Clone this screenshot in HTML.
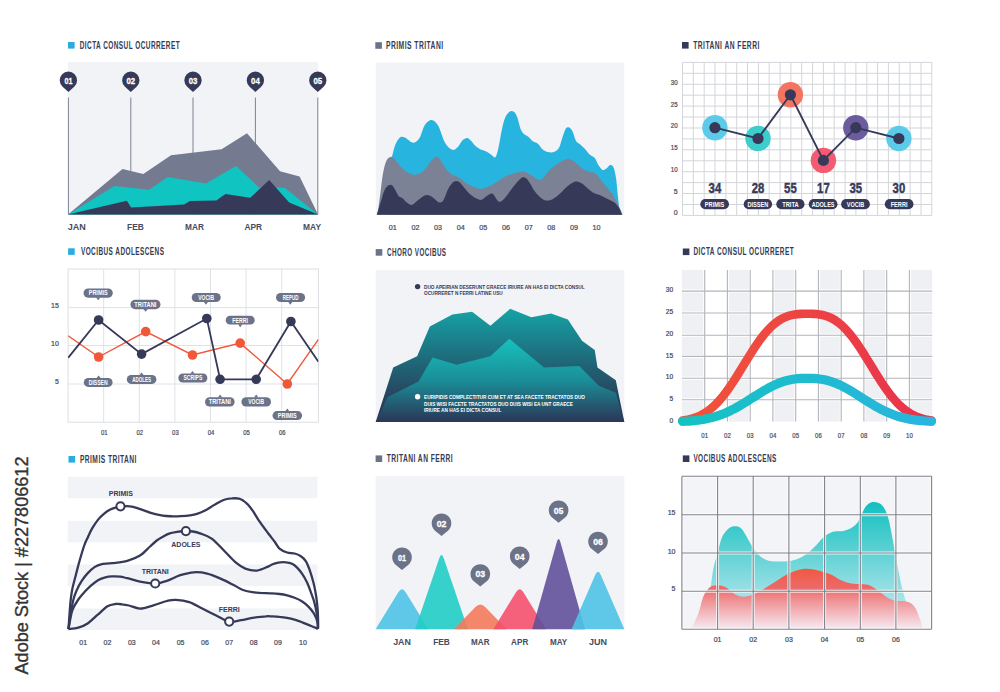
<!DOCTYPE html>
<html><head><meta charset="utf-8"><title>Infographic charts</title>
<style>
html,body{margin:0;padding:0;background:#ffffff;}
body{width:1000px;height:692px;overflow:hidden;}
svg{display:block;}
text{font-family:'Liberation Sans', Arial, sans-serif;}
</style></head>
<body>
<svg width="1000" height="692" viewBox="0 0 1000 692">
<rect width="1000" height="692" fill="#ffffff"/>
<rect x="68.0" y="42.0" width="6.6" height="6.6" fill="#2aace2"/>
<text x="79.7" y="48.7" font-size="10.20" fill="#363a52" font-weight="bold" text-anchor="start" textLength="100.4" lengthAdjust="spacingAndGlyphs" letter-spacing="0.7">DICTA CONSUL OCURRERET</text>
<rect x="68" y="62" width="250" height="152.5" fill="#f2f3f7"/>
<line x1="68.4" y1="97.5" x2="68.4" y2="214.5" stroke="#7d8291" stroke-width="1"/>
<line x1="130.8" y1="97.5" x2="130.8" y2="214.5" stroke="#7d8291" stroke-width="1"/>
<line x1="193.0" y1="97.5" x2="193.0" y2="214.5" stroke="#7d8291" stroke-width="1"/>
<line x1="255.4" y1="97.5" x2="255.4" y2="214.5" stroke="#7d8291" stroke-width="1"/>
<line x1="317.8" y1="97.5" x2="317.8" y2="214.5" stroke="#7d8291" stroke-width="1"/>
<path d="M68.0,214.5 L122.5,168.9 L143.3,174.1 L171.0,155.2 L221.6,149.2 L247.0,133.3 L280.0,171.3 L299.6,176.5 L318.0,214.5 Z" fill="#747b91"/>
<path d="M68.0,214.5 L114.6,185.9 L149.3,189.7 L167.6,176.9 L206.0,183.5 L236.0,166.0 L259.0,187.4 L280.0,187.5 L285.0,188.0 L318.0,214.5 Z" fill="#10c4c2"/>
<path d="M68.0,214.5 L126.8,200.7 L131.1,207.6 L184.0,204.5 L190.0,201.0 L216.4,200.4 L225.5,193.9 L250.2,197.8 L269.2,180.1 L289.2,202.4 L318.0,214.5 Z" fill="#363a58"/>
<path d="M62.58,86.67 L68.40,91.90 L74.22,86.67 A8.70,8.70 0 1 0 62.58,86.67 Z" fill="#363a58"/>
<text x="68.4" y="83.6" font-size="9.40" fill="#ffffff" font-weight="bold" text-anchor="middle" textLength="8.0" lengthAdjust="spacingAndGlyphs" stroke="#ffffff" stroke-width="0.3">01</text>
<path d="M124.98,86.67 L130.80,91.90 L136.62,86.67 A8.70,8.70 0 1 0 124.98,86.67 Z" fill="#363a58"/>
<text x="130.8" y="83.6" font-size="9.40" fill="#ffffff" font-weight="bold" text-anchor="middle" textLength="8.7" lengthAdjust="spacingAndGlyphs" stroke="#ffffff" stroke-width="0.3">02</text>
<path d="M187.18,86.67 L193.00,91.90 L198.82,86.67 A8.70,8.70 0 1 0 187.18,86.67 Z" fill="#363a58"/>
<text x="193.0" y="83.6" font-size="9.40" fill="#ffffff" font-weight="bold" text-anchor="middle" textLength="8.7" lengthAdjust="spacingAndGlyphs" stroke="#ffffff" stroke-width="0.3">03</text>
<path d="M249.58,86.67 L255.40,91.90 L261.22,86.67 A8.70,8.70 0 1 0 249.58,86.67 Z" fill="#363a58"/>
<text x="255.4" y="83.6" font-size="9.40" fill="#ffffff" font-weight="bold" text-anchor="middle" textLength="8.7" lengthAdjust="spacingAndGlyphs" stroke="#ffffff" stroke-width="0.3">04</text>
<path d="M311.98,86.67 L317.80,91.90 L323.62,86.67 A8.70,8.70 0 1 0 311.98,86.67 Z" fill="#363a58"/>
<text x="317.8" y="83.6" font-size="9.40" fill="#ffffff" font-weight="bold" text-anchor="middle" textLength="8.7" lengthAdjust="spacingAndGlyphs" stroke="#ffffff" stroke-width="0.3">05</text>
<text x="67.7" y="230.3" font-size="9.40" fill="#464b5e" font-weight="bold" text-anchor="start" textLength="18.1" lengthAdjust="spacingAndGlyphs">JAN</text>
<text x="127.1" y="230.3" font-size="9.40" fill="#464b5e" font-weight="bold" text-anchor="start" textLength="16.8" lengthAdjust="spacingAndGlyphs">FEB</text>
<text x="185.1" y="230.3" font-size="9.40" fill="#464b5e" font-weight="bold" text-anchor="start" textLength="18.9" lengthAdjust="spacingAndGlyphs">MAR</text>
<text x="244.4" y="230.3" font-size="9.40" fill="#464b5e" font-weight="bold" text-anchor="start" textLength="17.6" lengthAdjust="spacingAndGlyphs">APR</text>
<text x="303.1" y="230.3" font-size="9.40" fill="#464b5e" font-weight="bold" text-anchor="start" textLength="17.9" lengthAdjust="spacingAndGlyphs">MAY</text>
<rect x="375.3" y="42.2" width="6.6" height="6.6" fill="#6b7388"/>
<text x="386.0" y="48.9" font-size="10.20" fill="#363a52" font-weight="bold" text-anchor="start" textLength="57.6" lengthAdjust="spacingAndGlyphs" letter-spacing="0.7">PRIMIS TRITANI</text>
<rect x="375.8" y="62.6" width="248.4" height="152.2" fill="#f2f3f7"/>
<path d="M387.0,214.8 C387.2,209.8 387.9,193.3 388.5,185.0 C389.1,176.7 389.8,170.3 390.5,165.0 C391.2,159.7 392.1,156.3 392.9,152.9 C393.7,149.5 394.5,146.7 395.5,144.3 C396.5,141.9 397.8,139.7 398.9,138.4 C400.0,137.1 401.0,136.7 402.3,136.7 C403.6,136.7 404.9,137.5 406.5,138.4 C408.1,139.3 410.1,141.7 411.7,142.3 C413.3,142.9 414.5,142.7 415.9,141.8 C417.3,140.9 418.8,139.4 420.2,136.7 C421.6,134.0 422.9,128.3 424.5,125.6 C426.1,122.9 428.1,121.3 429.6,120.5 C431.2,119.7 432.4,120.0 433.8,120.8 C435.2,121.6 436.8,123.4 438.1,125.6 C439.4,127.8 440.4,131.3 441.5,134.1 C442.6,136.9 443.5,140.2 444.9,142.6 C446.3,145.0 448.4,147.4 450.0,148.6 C451.6,149.8 452.9,150.2 454.3,149.8 C455.7,149.4 457.2,147.6 458.6,146.0 C460.0,144.4 461.4,141.4 462.8,140.1 C464.2,138.8 465.7,137.8 467.1,137.9 C468.5,138.0 469.9,139.6 471.3,140.9 C472.7,142.2 474.0,144.6 475.6,146.0 C477.2,147.4 479.0,148.6 480.7,149.5 C482.4,150.4 484.1,150.3 485.8,151.2 C487.5,152.0 489.4,153.6 491.0,154.6 C492.6,155.6 494.1,158.4 495.3,157.3 C496.5,156.2 497.3,152.6 498.4,148.0 C499.5,143.4 500.7,135.1 501.8,130.0 C502.9,124.9 503.9,120.6 505.2,117.6 C506.5,114.6 508.1,112.8 509.5,111.8 C510.9,110.8 512.5,110.9 513.8,111.8 C515.1,112.7 516.1,114.2 517.2,117.1 C518.3,120.0 519.5,126.2 520.6,129.0 C521.7,131.8 522.7,132.8 524.0,134.1 C525.3,135.4 526.9,135.6 528.3,136.7 C529.7,137.8 531.0,139.8 532.5,140.9 C534.0,142.0 535.9,142.1 537.6,143.5 C539.3,144.9 541.1,148.1 542.8,149.5 C544.5,150.9 546.0,151.6 547.9,152.0 C549.8,152.4 552.0,152.7 553.9,152.0 C555.8,151.3 557.6,150.2 559.0,147.8 C560.4,145.4 561.3,140.7 562.4,137.5 C563.5,134.3 564.7,130.3 565.8,128.6 C566.9,126.9 568.1,127.0 569.2,127.5 C570.3,128.0 571.5,129.4 572.6,131.6 C573.7,133.8 574.7,138.8 576.0,140.9 C577.3,143.0 578.9,143.1 580.3,144.4 C581.7,145.7 583.0,146.9 584.6,148.6 C586.2,150.3 588.0,153.0 589.7,154.6 C591.4,156.2 593.4,156.3 594.8,158.0 C596.2,159.7 596.9,162.8 598.2,164.8 C599.5,166.8 601.1,169.3 602.5,169.9 C603.9,170.5 605.4,169.0 606.7,168.2 C608.0,167.4 609.0,165.1 610.1,165.0 C611.2,164.9 612.6,165.2 613.6,167.4 C614.6,169.7 615.4,173.8 616.1,178.5 C616.8,183.2 617.2,190.4 617.8,195.5 C618.4,200.6 618.9,206.0 619.5,209.2 C620.1,212.4 620.9,213.9 621.2,214.8 L387.0,214.8 Z" fill="#27b5e0"/>
<path d="M377.6,214.8 C378.0,211.6 379.2,202.1 380.1,195.5 C381.0,188.9 381.7,180.7 382.7,175.0 C383.7,169.3 384.8,164.4 386.1,161.4 C387.4,158.4 389.0,157.7 390.3,157.1 C391.6,156.5 392.7,157.2 393.8,158.0 C394.9,158.8 395.8,160.5 397.2,162.2 C398.6,163.9 400.3,166.3 402.3,168.2 C404.3,170.0 406.8,172.2 409.1,173.3 C411.4,174.4 413.6,175.0 415.9,174.7 C418.2,174.4 420.4,173.5 422.7,171.6 C425.0,169.7 427.6,165.5 429.6,163.1 C431.6,160.7 433.1,157.9 434.7,157.1 C436.3,156.2 437.6,156.7 439.0,158.0 C440.4,159.3 441.6,162.5 443.2,164.8 C444.8,167.1 446.6,169.9 448.3,171.6 C450.0,173.3 451.4,173.9 453.4,175.0 C455.4,176.1 458.0,177.0 460.3,178.4 C462.6,179.8 464.8,182.2 467.1,183.6 C469.4,185.0 471.6,186.2 473.9,187.0 C476.2,187.8 478.4,188.7 480.7,188.7 C483.0,188.7 485.2,187.8 487.5,187.0 C489.8,186.2 492.0,185.0 494.4,183.6 C496.8,182.2 499.4,179.9 501.8,178.5 C504.2,177.1 506.0,176.1 508.6,175.1 C511.2,174.1 514.6,173.1 517.2,172.5 C519.8,171.9 521.7,171.2 524.0,171.6 C526.3,172.0 528.5,173.8 530.8,175.1 C533.1,176.4 535.6,178.7 537.6,179.3 C539.6,179.9 541.1,179.8 542.8,178.5 C544.5,177.2 545.9,173.7 547.9,171.6 C549.9,169.5 552.2,167.5 554.7,165.7 C557.2,163.9 560.8,161.7 563.2,160.6 C565.6,159.5 567.2,158.6 569.2,158.9 C571.2,159.2 573.1,160.8 575.2,162.3 C577.3,163.9 579.7,166.6 582.0,168.2 C584.3,169.8 586.5,170.7 588.8,171.6 C591.1,172.5 593.8,172.2 595.6,173.4 C597.5,174.6 598.3,176.5 599.9,178.5 C601.5,180.5 603.1,183.0 605.0,185.3 C606.9,187.6 609.1,189.6 611.0,192.1 C612.9,194.6 614.7,198.0 616.1,200.6 C617.5,203.2 618.4,205.1 619.5,207.5 C620.6,209.9 622.1,213.6 622.6,214.8 L377.6,214.8 Z" fill="#7c8296"/>
<path d="M376.7,214.8 C377.3,213.0 378.8,208.1 380.1,204.0 C381.4,199.9 383.0,193.5 384.4,190.4 C385.8,187.3 387.3,186.2 388.6,185.3 C389.9,184.5 391.0,184.5 392.1,185.3 C393.2,186.2 394.4,188.6 395.5,190.4 C396.6,192.2 397.8,195.0 398.9,196.3 C400.0,197.6 401.0,197.1 402.3,198.1 C403.6,199.1 404.9,201.2 406.5,202.3 C408.1,203.4 409.8,205.2 411.7,204.9 C413.6,204.6 415.5,202.2 417.6,200.6 C419.7,199.0 422.5,196.3 424.5,195.5 C426.5,194.7 427.9,194.9 429.6,195.5 C431.3,196.1 433.1,197.8 434.7,198.9 C436.3,200.0 437.6,202.0 439.0,202.3 C440.4,202.6 441.6,202.9 443.2,200.6 C444.8,198.3 446.6,191.8 448.3,188.7 C450.0,185.6 451.7,183.1 453.4,181.9 C455.1,180.7 456.9,180.7 458.6,181.5 C460.3,182.3 462.0,185.1 463.7,187.0 C465.4,188.9 466.8,191.1 468.8,192.9 C470.8,194.8 473.5,196.9 475.6,198.1 C477.7,199.2 479.6,200.2 481.6,199.8 C483.6,199.4 485.6,196.5 487.5,195.5 C489.4,194.5 491.0,193.0 492.7,193.8 C494.4,194.6 496.1,199.2 497.5,200.5 C498.9,201.8 499.4,202.3 501.0,201.5 C502.6,200.7 504.8,198.1 506.9,195.5 C509.0,192.9 511.5,188.9 513.8,186.1 C516.1,183.3 518.8,179.9 520.6,178.5 C522.5,177.1 523.5,177.0 524.9,177.6 C526.3,178.2 527.5,179.8 529.1,181.9 C530.7,184.0 532.4,187.9 534.2,190.4 C536.1,192.9 538.2,195.5 540.2,197.2 C542.2,198.9 544.1,200.3 546.2,200.6 C548.3,200.9 550.7,200.0 553.0,198.9 C555.3,197.8 557.5,195.8 559.8,193.8 C562.1,191.8 564.5,188.8 566.6,187.0 C568.7,185.2 570.9,183.6 572.6,182.7 C574.3,181.8 575.3,181.3 576.9,181.5 C578.5,181.7 580.1,182.4 582.0,183.6 C583.9,184.8 586.0,187.1 588.0,188.7 C590.0,190.3 591.8,191.9 593.9,193.0 C596.0,194.1 598.5,194.5 600.8,195.5 C603.1,196.5 605.3,197.8 607.6,198.9 C609.9,200.1 612.5,201.0 614.4,202.4 C616.2,203.8 617.4,205.4 618.7,207.5 C620.0,209.6 621.5,213.6 622.1,214.8 L376.7,214.8 Z" fill="#363a58"/>
<text x="392.7" y="229.9" font-size="7.20" fill="#464b5e" font-weight="normal" text-anchor="middle" stroke="#464b5e" stroke-width="0.22">01</text>
<text x="415.4" y="229.9" font-size="7.20" fill="#464b5e" font-weight="normal" text-anchor="middle" stroke="#464b5e" stroke-width="0.22">02</text>
<text x="438.0" y="229.9" font-size="7.20" fill="#464b5e" font-weight="normal" text-anchor="middle" stroke="#464b5e" stroke-width="0.22">03</text>
<text x="460.7" y="229.9" font-size="7.20" fill="#464b5e" font-weight="normal" text-anchor="middle" stroke="#464b5e" stroke-width="0.22">04</text>
<text x="483.3" y="229.9" font-size="7.20" fill="#464b5e" font-weight="normal" text-anchor="middle" stroke="#464b5e" stroke-width="0.22">05</text>
<text x="506.0" y="229.9" font-size="7.20" fill="#464b5e" font-weight="normal" text-anchor="middle" stroke="#464b5e" stroke-width="0.22">06</text>
<text x="528.7" y="229.9" font-size="7.20" fill="#464b5e" font-weight="normal" text-anchor="middle" stroke="#464b5e" stroke-width="0.22">07</text>
<text x="551.3" y="229.9" font-size="7.20" fill="#464b5e" font-weight="normal" text-anchor="middle" stroke="#464b5e" stroke-width="0.22">08</text>
<text x="574.0" y="229.9" font-size="7.20" fill="#464b5e" font-weight="normal" text-anchor="middle" stroke="#464b5e" stroke-width="0.22">09</text>
<text x="596.6" y="229.9" font-size="7.20" fill="#464b5e" font-weight="normal" text-anchor="middle" stroke="#464b5e" stroke-width="0.22">10</text>
<rect x="682.0" y="42.0" width="6.6" height="6.6" fill="#363a58"/>
<text x="693.2" y="48.7" font-size="10.20" fill="#363a52" font-weight="bold" text-anchor="start" textLength="66.6" lengthAdjust="spacingAndGlyphs" letter-spacing="0.7">TRITANI AN FERRI</text>
<rect x="682.5" y="62.4" width="249.3" height="153.0" fill="#ffffff"/>
<path d="M682.5,62.4V215.4 M693.3,62.4V215.4 M704.2,62.4V215.4 M715.0,62.4V215.4 M725.9,62.4V215.4 M736.7,62.4V215.4 M747.5,62.4V215.4 M758.4,62.4V215.4 M769.2,62.4V215.4 M780.1,62.4V215.4 M790.9,62.4V215.4 M801.7,62.4V215.4 M812.6,62.4V215.4 M823.4,62.4V215.4 M834.2,62.4V215.4 M845.1,62.4V215.4 M855.9,62.4V215.4 M866.8,62.4V215.4 M877.6,62.4V215.4 M888.4,62.4V215.4 M899.3,62.4V215.4 M910.1,62.4V215.4 M921.0,62.4V215.4 M931.8,62.4V215.4 M682.5,62.4H931.8 M682.5,73.3H931.8 M682.5,84.3H931.8 M682.5,95.2H931.8 M682.5,106.1H931.8 M682.5,117.0H931.8 M682.5,128.0H931.8 M682.5,138.9H931.8 M682.5,149.8H931.8 M682.5,160.8H931.8 M682.5,171.7H931.8 M682.5,182.6H931.8 M682.5,193.5H931.8 M682.5,204.5H931.8 M682.5,215.4H931.8" stroke="#d3d5da" stroke-width="1" fill="none"/>
<text x="677.6" y="84.7" font-size="7.00" fill="#464b5e" font-weight="normal" text-anchor="end" textLength="6.8" lengthAdjust="spacingAndGlyphs" stroke="#464b5e" stroke-width="0.22">30</text>
<text x="677.6" y="106.5" font-size="7.00" fill="#464b5e" font-weight="normal" text-anchor="end" textLength="6.8" lengthAdjust="spacingAndGlyphs" stroke="#464b5e" stroke-width="0.22">25</text>
<text x="677.6" y="128.3" font-size="7.00" fill="#464b5e" font-weight="normal" text-anchor="end" textLength="6.8" lengthAdjust="spacingAndGlyphs" stroke="#464b5e" stroke-width="0.22">20</text>
<text x="677.6" y="150.0" font-size="7.00" fill="#464b5e" font-weight="normal" text-anchor="end" textLength="6.8" lengthAdjust="spacingAndGlyphs" stroke="#464b5e" stroke-width="0.22">15</text>
<text x="677.6" y="171.8" font-size="7.00" fill="#464b5e" font-weight="normal" text-anchor="end" textLength="6.8" lengthAdjust="spacingAndGlyphs" stroke="#464b5e" stroke-width="0.22">10</text>
<text x="677.6" y="193.6" font-size="7.00" fill="#464b5e" font-weight="normal" text-anchor="end" stroke="#464b5e" stroke-width="0.22">5</text>
<text x="677.6" y="215.4" font-size="7.00" fill="#464b5e" font-weight="normal" text-anchor="end" stroke="#464b5e" stroke-width="0.22">0</text>
<circle cx="714.9" cy="127.7" r="12.7" fill="#5ccbea"/>
<circle cx="758.0" cy="138.5" r="12.7" fill="#3ccdcc"/>
<circle cx="790.4" cy="94.8" r="12.7" fill="#f47462"/>
<circle cx="823.4" cy="160.4" r="12.7" fill="#f45a72"/>
<circle cx="855.8" cy="127.7" r="12.7" fill="#6c5c9e"/>
<circle cx="898.9" cy="138.5" r="12.7" fill="#5ccbea"/>
<polyline points="714.9,127.7 758.0,138.5 790.4,94.8 823.4,160.4 855.8,127.7 898.9,138.5" fill="none" stroke="#363a58" stroke-width="1.9"/>
<circle cx="714.9" cy="127.7" r="5.6" fill="#363a58"/>
<text x="714.9" y="193.4" font-size="14.40" fill="#363a58" font-weight="bold" text-anchor="middle" textLength="12.6" lengthAdjust="spacingAndGlyphs" stroke="#363a58" stroke-width="0.45">34</text>
<rect x="700.3" y="199.1" width="28.7" height="10.2" rx="5.1" fill="#363a58"/>
<text x="714.6" y="206.9" font-size="6.40" fill="#ffffff" font-weight="bold" text-anchor="middle" textLength="19.5" lengthAdjust="spacingAndGlyphs">PRIMIS</text>
<circle cx="758.0" cy="138.5" r="5.6" fill="#363a58"/>
<text x="758.0" y="193.4" font-size="14.40" fill="#363a58" font-weight="bold" text-anchor="middle" textLength="12.6" lengthAdjust="spacingAndGlyphs" stroke="#363a58" stroke-width="0.45">28</text>
<rect x="743.7" y="199.1" width="28.4" height="10.2" rx="5.1" fill="#363a58"/>
<text x="757.9" y="206.9" font-size="6.40" fill="#ffffff" font-weight="bold" text-anchor="middle" textLength="21.0" lengthAdjust="spacingAndGlyphs">DISSEN</text>
<circle cx="790.4" cy="94.8" r="5.6" fill="#363a58"/>
<text x="790.4" y="193.4" font-size="14.40" fill="#363a58" font-weight="bold" text-anchor="middle" textLength="12.6" lengthAdjust="spacingAndGlyphs" stroke="#363a58" stroke-width="0.45">55</text>
<rect x="776.3" y="199.1" width="28.2" height="10.2" rx="5.1" fill="#363a58"/>
<text x="790.4" y="206.9" font-size="6.40" fill="#ffffff" font-weight="bold" text-anchor="middle" textLength="16.5" lengthAdjust="spacingAndGlyphs">TRITA</text>
<circle cx="823.4" cy="160.4" r="5.6" fill="#363a58"/>
<text x="823.4" y="193.4" font-size="14.40" fill="#363a58" font-weight="bold" text-anchor="middle" textLength="12.6" lengthAdjust="spacingAndGlyphs" stroke="#363a58" stroke-width="0.45">17</text>
<rect x="808.7" y="199.1" width="28.8" height="10.2" rx="5.1" fill="#363a58"/>
<text x="823.1" y="206.9" font-size="6.40" fill="#ffffff" font-weight="bold" text-anchor="middle" textLength="22.8" lengthAdjust="spacingAndGlyphs">ADOLES</text>
<circle cx="855.8" cy="127.7" r="5.6" fill="#363a58"/>
<text x="855.8" y="193.4" font-size="14.40" fill="#363a58" font-weight="bold" text-anchor="middle" textLength="12.6" lengthAdjust="spacingAndGlyphs" stroke="#363a58" stroke-width="0.45">35</text>
<rect x="841.1" y="199.1" width="28.8" height="10.2" rx="5.1" fill="#363a58"/>
<text x="855.5" y="206.9" font-size="6.40" fill="#ffffff" font-weight="bold" text-anchor="middle" textLength="17.4" lengthAdjust="spacingAndGlyphs">VOCIB</text>
<circle cx="898.9" cy="138.5" r="5.6" fill="#363a58"/>
<text x="898.9" y="193.4" font-size="14.40" fill="#363a58" font-weight="bold" text-anchor="middle" textLength="12.6" lengthAdjust="spacingAndGlyphs" stroke="#363a58" stroke-width="0.45">30</text>
<rect x="884.8" y="199.1" width="28.7" height="10.2" rx="5.1" fill="#363a58"/>
<text x="899.1" y="206.9" font-size="6.40" fill="#ffffff" font-weight="bold" text-anchor="middle" textLength="16.9" lengthAdjust="spacingAndGlyphs">FERRI</text>
<rect x="68.1" y="248.3" width="6.6" height="6.6" fill="#2aace2"/>
<text x="80.9" y="255.0" font-size="10.20" fill="#363a52" font-weight="bold" text-anchor="start" textLength="83.5" lengthAdjust="spacingAndGlyphs" letter-spacing="0.7">VOCIBUS ADOLESCENS</text>
<rect x="68.1" y="269.0" width="250.3" height="153.2" fill="#ffffff" stroke="#dcdee3" stroke-width="1"/>
<path d="M103.7,269.0V422.2 M139.3,269.0V422.2 M174.9,269.0V422.2 M210.5,269.0V422.2 M246.1,269.0V422.2 M281.7,269.0V422.2 M68.1,307.6H318.4 M68.1,345.5H318.4 M68.1,384.0H318.4" stroke="#e0e2e7" stroke-width="1" fill="none"/>
<text x="58.8" y="307.8" font-size="7.00" fill="#464b5e" font-weight="normal" text-anchor="end" stroke="#464b5e" stroke-width="0.22">15</text>
<text x="58.8" y="345.7" font-size="7.00" fill="#464b5e" font-weight="normal" text-anchor="end" stroke="#464b5e" stroke-width="0.22">10</text>
<text x="58.8" y="384.2" font-size="7.00" fill="#464b5e" font-weight="normal" text-anchor="end" stroke="#464b5e" stroke-width="0.22">5</text>
<text x="104.2" y="434.6" font-size="7.30" fill="#464b5e" font-weight="normal" text-anchor="middle" textLength="6.6" lengthAdjust="spacingAndGlyphs" stroke="#464b5e" stroke-width="0.22">01</text>
<text x="139.8" y="434.6" font-size="7.30" fill="#464b5e" font-weight="normal" text-anchor="middle" textLength="6.6" lengthAdjust="spacingAndGlyphs" stroke="#464b5e" stroke-width="0.22">02</text>
<text x="175.4" y="434.6" font-size="7.30" fill="#464b5e" font-weight="normal" text-anchor="middle" textLength="6.6" lengthAdjust="spacingAndGlyphs" stroke="#464b5e" stroke-width="0.22">03</text>
<text x="211.0" y="434.6" font-size="7.30" fill="#464b5e" font-weight="normal" text-anchor="middle" textLength="6.6" lengthAdjust="spacingAndGlyphs" stroke="#464b5e" stroke-width="0.22">04</text>
<text x="246.6" y="434.6" font-size="7.30" fill="#464b5e" font-weight="normal" text-anchor="middle" textLength="6.6" lengthAdjust="spacingAndGlyphs" stroke="#464b5e" stroke-width="0.22">05</text>
<text x="282.2" y="434.6" font-size="7.30" fill="#464b5e" font-weight="normal" text-anchor="middle" textLength="6.6" lengthAdjust="spacingAndGlyphs" stroke="#464b5e" stroke-width="0.22">06</text>
<clipPath id="c4"><rect x="68.1" y="269.0" width="250.3" height="153.2"/></clipPath>
<g clip-path="url(#c4)">
<polyline points="68.1,335.7 98.6,357.0 145.7,331.6 192.5,355.0 240.2,343.1 287.3,384.0 318.4,339.3" fill="none" stroke="#f0583a" stroke-width="1.4"/>
<polyline points="68.1,357.9 98.6,320.0 141.6,354.1 206.8,318.5 220.1,379.3 256.2,379.3 290.9,321.5 318.4,361.8" fill="none" stroke="#363a58" stroke-width="1.8"/>
</g>
<circle cx="98.6" cy="357.0" r="4.8" fill="#f0583a"/>
<circle cx="145.7" cy="331.6" r="4.8" fill="#f0583a"/>
<circle cx="192.5" cy="355.0" r="4.8" fill="#f0583a"/>
<circle cx="240.2" cy="343.1" r="4.8" fill="#f0583a"/>
<circle cx="287.3" cy="384.0" r="4.8" fill="#f0583a"/>
<circle cx="98.6" cy="320.0" r="4.8" fill="#363a58"/>
<circle cx="141.6" cy="354.1" r="4.8" fill="#363a58"/>
<circle cx="206.8" cy="318.5" r="4.8" fill="#363a58"/>
<circle cx="220.1" cy="379.3" r="4.8" fill="#363a58"/>
<circle cx="256.2" cy="379.3" r="4.8" fill="#363a58"/>
<circle cx="290.9" cy="321.5" r="4.8" fill="#363a58"/>
<rect x="83.5" y="288.4" width="29.3" height="9.3" rx="4.6" fill="#6c7389"/>
<path d="M96.0,297.4 L98.2,300.3 L100.4,297.4 Z" fill="#6c7389"/>
<text x="98.2" y="295.4" font-size="6.40" fill="#ffffff" font-weight="bold" text-anchor="middle" textLength="18.9" lengthAdjust="spacingAndGlyphs">PRIMIS</text>
<rect x="130.4" y="299.8" width="30.1" height="9.4" rx="4.7" fill="#6c7389"/>
<path d="M143.4,308.9 L145.6,311.8 L147.8,308.9 Z" fill="#6c7389"/>
<text x="145.4" y="306.8" font-size="6.40" fill="#ffffff" font-weight="bold" text-anchor="middle" textLength="22.1" lengthAdjust="spacingAndGlyphs">TRITANI</text>
<rect x="191.7" y="292.9" width="29.0" height="9.2" rx="4.6" fill="#6c7389"/>
<path d="M203.7,301.8 L205.9,304.7 L208.1,301.8 Z" fill="#6c7389"/>
<text x="206.2" y="299.8" font-size="6.40" fill="#ffffff" font-weight="bold" text-anchor="middle" textLength="15.8" lengthAdjust="spacingAndGlyphs">VOCIB</text>
<rect x="225.7" y="315.8" width="29.0" height="8.8" rx="4.4" fill="#6c7389"/>
<path d="M238.0,324.3 L240.2,327.2 L242.4,324.3 Z" fill="#6c7389"/>
<text x="240.2" y="322.5" font-size="6.40" fill="#ffffff" font-weight="bold" text-anchor="middle" textLength="15.8" lengthAdjust="spacingAndGlyphs">FERRI</text>
<rect x="276.0" y="292.9" width="29.1" height="9.2" rx="4.6" fill="#6c7389"/>
<path d="M288.1,301.8 L290.3,304.7 L292.5,301.8 Z" fill="#6c7389"/>
<text x="290.6" y="299.8" font-size="6.40" fill="#ffffff" font-weight="bold" text-anchor="middle" textLength="15.8" lengthAdjust="spacingAndGlyphs">REPUD</text>
<rect x="83.8" y="378.0" width="28.8" height="8.9" rx="4.4" fill="#6c7389"/>
<path d="M96.4,378.3 L98.6,375.4 L100.8,378.3 Z" fill="#6c7389"/>
<text x="98.2" y="384.8" font-size="6.40" fill="#ffffff" font-weight="bold" text-anchor="middle" textLength="18.9" lengthAdjust="spacingAndGlyphs">DISSEN</text>
<rect x="126.8" y="375.0" width="29.6" height="8.9" rx="4.4" fill="#6c7389"/>
<path d="M139.4,375.3 L141.6,372.4 L143.8,375.3 Z" fill="#6c7389"/>
<text x="141.6" y="381.8" font-size="6.40" fill="#ffffff" font-weight="bold" text-anchor="middle" textLength="18.9" lengthAdjust="spacingAndGlyphs">ADOLES</text>
<rect x="178.3" y="373.5" width="29.1" height="9.1" rx="4.5" fill="#6c7389"/>
<path d="M190.3,373.8 L192.5,370.9 L194.7,373.8 Z" fill="#6c7389"/>
<text x="192.9" y="380.3" font-size="6.40" fill="#ffffff" font-weight="bold" text-anchor="middle" textLength="18.9" lengthAdjust="spacingAndGlyphs">SCRIPS</text>
<rect x="205.0" y="397.2" width="29.6" height="9.4" rx="4.7" fill="#6c7389"/>
<path d="M217.9,397.5 L220.1,394.6 L222.3,397.5 Z" fill="#6c7389"/>
<text x="219.8" y="404.2" font-size="6.40" fill="#ffffff" font-weight="bold" text-anchor="middle" textLength="22.1" lengthAdjust="spacingAndGlyphs">TRITANI</text>
<rect x="241.4" y="397.2" width="29.6" height="9.4" rx="4.7" fill="#6c7389"/>
<path d="M254.0,397.5 L256.2,394.6 L258.4,397.5 Z" fill="#6c7389"/>
<text x="256.2" y="404.2" font-size="6.40" fill="#ffffff" font-weight="bold" text-anchor="middle" textLength="15.8" lengthAdjust="spacingAndGlyphs">VOCIB</text>
<rect x="272.5" y="411.1" width="29.6" height="9.0" rx="4.5" fill="#6c7389"/>
<path d="M285.1,411.4 L287.3,408.5 L289.5,411.4 Z" fill="#6c7389"/>
<text x="287.3" y="417.9" font-size="6.40" fill="#ffffff" font-weight="bold" text-anchor="middle" textLength="18.9" lengthAdjust="spacingAndGlyphs">PRIMIS</text>
<rect x="375.7" y="249.1" width="6.6" height="6.6" fill="#6b7388"/>
<text x="387.0" y="255.8" font-size="10.20" fill="#363a52" font-weight="bold" text-anchor="start" textLength="59.5" lengthAdjust="spacingAndGlyphs" letter-spacing="0.7">CHORO VOCIBUS</text>
<rect x="375.7" y="270.2" width="248.6" height="151.7" fill="#f2f3f7"/>
<linearGradient id="g5a" gradientUnits="userSpaceOnUse" x1="0" y1="308" x2="0" y2="410"><stop offset="0" stop-color="#15a4a6"/><stop offset="0.55" stop-color="#1f6577"/><stop offset="1" stop-color="#2c3654"/></linearGradient>
<linearGradient id="g5b" gradientUnits="userSpaceOnUse" x1="0" y1="338" x2="0" y2="422"><stop offset="0" stop-color="#17c2be"/><stop offset="0.5" stop-color="#1a8e98"/><stop offset="1" stop-color="#2b3657"/></linearGradient>
<path d="M375.7,421.9 L393.2,367.5 L417.1,356.2 L429.8,326.6 L452.4,314.5 L472.1,311.7 L490.4,325.8 L510.2,308.8 L531.3,317.3 L551.0,313.4 L567.9,319.6 L582.0,340.7 L594.7,350.0 L597.5,367.5 L615.8,380.2 L624.3,421.9 Z" fill="url(#g5a)"/>
<path d="M375.7,421.9 L387.5,397.0 L418.5,381.6 L432.6,357.6 L456.6,364.7 L490.4,356.2 L509.3,338.7 L544.0,367.5 L579.2,366.1 L598.9,385.8 L615.8,392.8 L624.3,421.9 Z" fill="url(#g5b)"/>
<circle cx="417.6" cy="286.6" r="2.7" fill="#363a58"/>
<text x="424.0" y="288.5" font-size="5.00" fill="#363a58" font-weight="bold" text-anchor="start" textLength="160.6" lengthAdjust="spacingAndGlyphs">DUO APEIRIAN DESERUNT GRAECE IRIURE AN HAS EI DICTA CONSUL</text>
<text x="424.0" y="294.9" font-size="5.00" fill="#363a58" font-weight="bold" text-anchor="start" textLength="78.7" lengthAdjust="spacingAndGlyphs">OCURRERET N FERRI LATINE USU</text>
<circle cx="417.6" cy="396.8" r="2.7" fill="#ffffff"/>
<text x="424.0" y="399.0" font-size="5.00" fill="#ffffff" font-weight="bold" text-anchor="start" textLength="161.0" lengthAdjust="spacingAndGlyphs">EURIPIDIS COMPLECTITUR CUM ET AT SEA FACETE TRACTATOS DUO</text>
<text x="424.0" y="405.5" font-size="5.00" fill="#ffffff" font-weight="bold" text-anchor="start" textLength="148.9" lengthAdjust="spacingAndGlyphs">DUIS WISI  FACETE TRACTATOS DUO DUIS WISI EA UNT GRAECE</text>
<text x="424.0" y="412.0" font-size="5.00" fill="#ffffff" font-weight="bold" text-anchor="start" textLength="77.4" lengthAdjust="spacingAndGlyphs">IRIURE AN HAS EI DICTA CONSUL</text>
<rect x="682.8" y="248.5" width="6.6" height="6.6" fill="#363a58"/>
<text x="693.4" y="255.2" font-size="10.20" fill="#363a52" font-weight="bold" text-anchor="start" textLength="100.7" lengthAdjust="spacingAndGlyphs" letter-spacing="0.7">DICTA CONSUL OCURRERET</text>
<rect x="681.9" y="269.9" width="250.3" height="151.7" fill="#ffffff"/>
<rect x="681.9" y="269.9" width="22.75" height="151.7" fill="#eff0f3"/>
<rect x="727.4" y="269.9" width="22.75" height="151.7" fill="#eff0f3"/>
<rect x="772.9" y="269.9" width="22.75" height="151.7" fill="#eff0f3"/>
<rect x="818.4" y="269.9" width="22.75" height="151.7" fill="#eff0f3"/>
<rect x="863.9" y="269.9" width="22.75" height="151.7" fill="#eff0f3"/>
<rect x="909.4" y="269.9" width="22.75" height="151.7" fill="#eff0f3"/>
<path d="M704.7,269.9V421.6 M727.4,269.9V421.6 M750.2,269.9V421.6 M772.9,269.9V421.6 M795.7,269.9V421.6 M818.4,269.9V421.6 M841.2,269.9V421.6 M863.9,269.9V421.6 M886.7,269.9V421.6 M909.4,269.9V421.6 M681.9,291.1H932.2 M681.9,313.0H932.2 M681.9,335.2H932.2 M681.9,356.4H932.2 M681.9,378.2H932.2 M681.9,399.8H932.2" stroke="#ffffff" stroke-width="3" fill="none"/>
<path d="M704.7,269.9V421.6 M727.4,269.9V421.6 M750.2,269.9V421.6 M772.9,269.9V421.6 M795.7,269.9V421.6 M818.4,269.9V421.6 M841.2,269.9V421.6 M863.9,269.9V421.6 M886.7,269.9V421.6 M909.4,269.9V421.6 M681.9,291.1H932.2 M681.9,313.0H932.2 M681.9,335.2H932.2 M681.9,356.4H932.2 M681.9,378.2H932.2 M681.9,399.8H932.2" stroke="#b3b5ba" stroke-width="1.1" fill="none"/>
<text x="673.1" y="292.2" font-size="6.60" fill="#464b5e" font-weight="normal" text-anchor="end" stroke="#464b5e" stroke-width="0.22">30</text>
<text x="673.1" y="314.1" font-size="6.60" fill="#464b5e" font-weight="normal" text-anchor="end" stroke="#464b5e" stroke-width="0.22">25</text>
<text x="673.1" y="336.3" font-size="6.60" fill="#464b5e" font-weight="normal" text-anchor="end" stroke="#464b5e" stroke-width="0.22">20</text>
<text x="673.1" y="357.5" font-size="6.60" fill="#464b5e" font-weight="normal" text-anchor="end" stroke="#464b5e" stroke-width="0.22">15</text>
<text x="673.1" y="379.3" font-size="6.60" fill="#464b5e" font-weight="normal" text-anchor="end" stroke="#464b5e" stroke-width="0.22">10</text>
<text x="673.1" y="400.9" font-size="6.60" fill="#464b5e" font-weight="normal" text-anchor="end" stroke="#464b5e" stroke-width="0.22">5</text>
<text x="673.1" y="422.7" font-size="6.60" fill="#464b5e" font-weight="normal" text-anchor="end" stroke="#464b5e" stroke-width="0.22">0</text>
<text x="704.7" y="437.7" font-size="7.80" fill="#464b5e" font-weight="normal" text-anchor="middle" textLength="6.7" lengthAdjust="spacingAndGlyphs" stroke="#464b5e" stroke-width="0.22">01</text>
<text x="727.4" y="437.7" font-size="7.80" fill="#464b5e" font-weight="normal" text-anchor="middle" textLength="6.7" lengthAdjust="spacingAndGlyphs" stroke="#464b5e" stroke-width="0.22">02</text>
<text x="750.2" y="437.7" font-size="7.80" fill="#464b5e" font-weight="normal" text-anchor="middle" textLength="6.7" lengthAdjust="spacingAndGlyphs" stroke="#464b5e" stroke-width="0.22">03</text>
<text x="772.9" y="437.7" font-size="7.80" fill="#464b5e" font-weight="normal" text-anchor="middle" textLength="6.7" lengthAdjust="spacingAndGlyphs" stroke="#464b5e" stroke-width="0.22">04</text>
<text x="795.7" y="437.7" font-size="7.80" fill="#464b5e" font-weight="normal" text-anchor="middle" textLength="6.7" lengthAdjust="spacingAndGlyphs" stroke="#464b5e" stroke-width="0.22">05</text>
<text x="818.4" y="437.7" font-size="7.80" fill="#464b5e" font-weight="normal" text-anchor="middle" textLength="6.7" lengthAdjust="spacingAndGlyphs" stroke="#464b5e" stroke-width="0.22">06</text>
<text x="841.2" y="437.7" font-size="7.80" fill="#464b5e" font-weight="normal" text-anchor="middle" textLength="6.7" lengthAdjust="spacingAndGlyphs" stroke="#464b5e" stroke-width="0.22">07</text>
<text x="863.9" y="437.7" font-size="7.80" fill="#464b5e" font-weight="normal" text-anchor="middle" textLength="6.7" lengthAdjust="spacingAndGlyphs" stroke="#464b5e" stroke-width="0.22">08</text>
<text x="886.7" y="437.7" font-size="7.80" fill="#464b5e" font-weight="normal" text-anchor="middle" textLength="6.7" lengthAdjust="spacingAndGlyphs" stroke="#464b5e" stroke-width="0.22">09</text>
<text x="909.4" y="437.7" font-size="7.80" fill="#464b5e" font-weight="normal" text-anchor="middle" textLength="6.7" lengthAdjust="spacingAndGlyphs" stroke="#464b5e" stroke-width="0.22">10</text>
<linearGradient id="g6r" x1="0" y1="0" x2="1" y2="0"><stop offset="0" stop-color="#f2543a"/><stop offset="1" stop-color="#e8324c"/></linearGradient>
<linearGradient id="g6t" x1="0" y1="0" x2="1" y2="0"><stop offset="0" stop-color="#14c2c2"/><stop offset="1" stop-color="#2ab4de"/></linearGradient>
<path d="M682.50,420.56 L685.61,420.08 L688.73,419.47 L691.84,418.69 L694.96,417.72 L698.07,416.53 L701.18,415.09 L704.30,413.37 L707.41,411.35 L710.52,409.00 L713.64,406.31 L716.75,403.27 L719.87,399.88 L722.98,396.16 L726.09,392.11 L729.21,387.76 L732.32,383.17 L735.43,378.36 L738.55,373.39 L741.66,368.33 L744.77,363.23 L747.89,358.16 L751.00,353.17 L754.12,348.35 L757.23,343.72 L760.34,339.36 L763.46,335.30 L766.57,331.58 L769.69,328.22 L772.80,325.24 L775.91,322.64 L779.03,320.43 L782.14,318.59 L785.25,317.11 L788.37,315.95 L791.48,315.09 L794.60,314.49 L797.71,314.11 L800.82,313.90 L803.94,313.81 L807.05,313.80 L810.16,313.81 L813.28,313.89 L816.39,314.08 L819.51,314.44 L822.62,315.02 L825.73,315.85 L828.85,316.98 L831.96,318.43 L835.07,320.24 L838.19,322.41 L841.30,324.97 L844.42,327.92 L847.53,331.24 L850.64,334.93 L853.76,338.96 L856.87,343.29 L859.98,347.89 L863.10,352.70 L866.21,357.67 L869.33,362.74 L872.44,367.84 L875.55,372.91 L878.67,377.89 L881.78,382.71 L884.89,387.33 L888.01,391.70 L891.12,395.78 L894.24,399.54 L897.35,402.96 L900.46,406.03 L903.58,408.75 L906.69,411.14 L909.80,413.19 L912.92,414.94 L916.03,416.40 L919.15,417.62 L922.26,418.61 L925.37,419.40 L928.49,420.03 L931.60,420.52" fill="none" stroke="url(#g6r)" stroke-width="8.6" stroke-linecap="round"/>
<path d="M682.50,421.39 L685.61,421.24 L688.73,421.05 L691.84,420.80 L694.96,420.51 L698.07,420.15 L701.18,419.72 L704.30,419.21 L707.41,418.60 L710.52,417.90 L713.64,417.09 L716.75,416.17 L719.87,415.13 L722.98,413.97 L726.09,412.68 L729.21,411.28 L732.32,409.75 L735.43,408.12 L738.55,406.38 L741.66,404.56 L744.77,402.66 L747.89,400.72 L751.00,398.74 L754.12,396.75 L757.23,394.77 L760.34,392.83 L763.46,390.94 L766.57,389.14 L769.69,387.43 L772.80,385.85 L775.91,384.40 L779.03,383.10 L782.14,381.95 L785.25,380.97 L788.37,380.15 L791.48,379.50 L794.60,379.00 L797.71,378.65 L800.82,378.43 L803.94,378.33 L807.05,378.30 L810.16,378.32 L813.28,378.42 L816.39,378.63 L819.51,378.96 L822.62,379.44 L825.73,380.08 L828.85,380.88 L831.96,381.85 L835.07,382.98 L838.19,384.26 L841.30,385.70 L844.42,387.27 L847.53,388.97 L850.64,390.76 L853.76,392.64 L856.87,394.58 L859.98,396.56 L863.10,398.55 L866.21,400.53 L869.33,402.48 L872.44,404.38 L875.55,406.21 L878.67,407.95 L881.78,409.60 L884.89,411.13 L888.01,412.55 L891.12,413.85 L894.24,415.03 L897.35,416.08 L900.46,417.01 L903.58,417.83 L906.69,418.54 L909.80,419.15 L912.92,419.67 L916.03,420.11 L919.15,420.48 L922.26,420.78 L925.37,421.02 L928.49,421.22 L931.60,421.38" fill="none" stroke="url(#g6t)" stroke-width="9.2" stroke-linecap="round"/>
<rect x="68.5" y="456.0" width="6.6" height="6.6" fill="#2aace2"/>
<text x="79.9" y="462.7" font-size="10.20" fill="#363a52" font-weight="bold" text-anchor="start" textLength="57.0" lengthAdjust="spacingAndGlyphs" letter-spacing="0.7">PRIMIS TRITANI</text>
<rect x="67.7" y="476.7" width="249.7" height="21.6" fill="#f2f3f7"/>
<rect x="67.7" y="520.7" width="249.7" height="21.6" fill="#f2f3f7"/>
<rect x="67.7" y="564.4" width="249.7" height="21.6" fill="#f2f3f7"/>
<rect x="67.7" y="608.4" width="249.7" height="21.6" fill="#f2f3f7"/>
<path d="M68.5,629.1 C68.7,626.8 69.1,619.9 69.5,615.0 C69.9,610.1 70.2,604.4 70.7,600.0 C71.2,595.6 71.5,592.7 72.4,588.5 C73.3,584.3 74.8,579.2 75.9,574.7 C77.1,570.2 77.9,566.7 79.3,561.7 C80.7,556.8 83.0,549.1 84.4,545.0 C85.9,540.9 86.7,539.7 88.0,536.9 C89.3,534.1 90.6,531.1 92.3,528.2 C94.0,525.3 96.2,522.0 98.1,519.6 C100.0,517.2 102.0,515.4 103.9,513.8 C105.8,512.2 107.8,510.8 109.7,509.8 C111.6,508.8 113.6,508.1 115.5,507.6 C117.4,507.1 119.0,506.8 120.9,506.6 C122.8,506.4 125.2,506.2 127.0,506.2 C128.8,506.2 130.3,506.3 132.0,506.6 C133.7,506.9 135.1,507.4 137.2,508.1 C139.3,508.8 142.1,509.8 144.5,510.6 C146.9,511.4 149.3,512.4 151.7,513.1 C154.1,513.8 156.5,514.4 158.9,514.9 C161.3,515.4 163.7,515.8 166.1,516.0 C168.5,516.2 171.0,516.4 173.4,516.4 C175.8,516.4 177.8,516.4 180.6,516.2 C183.4,516.0 187.3,515.7 190.0,515.3 C192.7,514.9 194.7,514.6 197.0,513.9 C199.3,513.2 201.7,512.3 204.0,511.1 C206.3,509.9 208.7,508.3 211.0,506.9 C213.3,505.5 215.7,503.9 218.0,502.7 C220.3,501.5 222.7,500.2 225.0,499.5 C227.3,498.8 229.7,498.5 232.0,498.4 C234.3,498.2 237.1,498.2 239.0,498.6 C240.9,499.0 241.8,499.7 243.2,500.6 C244.6,501.5 245.8,502.4 247.4,504.1 C249.0,505.9 251.1,508.4 253.0,511.1 C254.9,513.8 256.5,517.0 258.6,520.2 C260.8,523.4 263.2,526.8 265.9,530.3 C268.5,533.8 272.2,538.5 274.5,541.5 C276.8,544.5 277.4,546.8 279.5,548.6 C281.6,550.4 284.6,551.7 287.1,552.5 C289.6,553.3 292.3,552.9 294.6,553.5 C296.9,554.1 299.0,555.0 300.9,556.3 C302.8,557.6 304.4,559.0 305.9,561.3 C307.4,563.6 308.4,566.5 309.7,570.1 C311.0,573.7 312.4,578.5 313.5,582.7 C314.6,586.9 315.3,591.1 316.0,595.3 C316.7,599.5 317.1,603.6 317.5,607.8 C317.9,612.0 318.0,616.8 318.1,620.4 C318.2,624.0 317.9,627.6 317.9,629.1" fill="none" stroke="#363a58" stroke-width="2.3" stroke-linejoin="round"/>
<path d="M68.5,629.1 C68.8,626.6 69.7,618.9 70.5,614.0 C71.3,609.1 72.3,604.0 73.3,600.0 C74.3,596.0 75.3,593.5 76.7,590.3 C78.1,587.1 80.0,583.6 81.9,580.7 C83.8,577.8 85.8,575.2 88.0,572.9 C90.2,570.6 92.7,568.3 94.9,566.9 C97.1,565.5 98.2,564.9 101.0,564.3 C103.8,563.7 107.6,563.8 112.0,563.2 C116.4,562.6 122.6,562.1 127.3,560.8 C132.0,559.5 136.2,557.9 140.0,555.5 C143.8,553.1 147.1,549.1 150.0,546.5 C152.9,543.9 155.4,541.6 157.5,540.0 C159.6,538.4 160.5,538.1 162.5,537.0 C164.5,535.9 167.3,534.2 169.7,533.4 C172.1,532.5 174.3,532.3 177.0,531.9 C179.7,531.5 182.9,531.1 185.6,531.0 C188.2,530.9 190.5,531.1 192.9,531.5 C195.3,531.9 196.9,532.2 200.0,533.4 C203.1,534.6 207.5,535.5 211.7,538.6 C215.9,541.7 221.0,547.7 225.1,551.7 C229.2,555.8 232.9,560.1 236.3,562.9 C239.7,565.7 241.9,567.3 245.3,568.6 C248.7,569.9 253.1,570.9 256.9,570.6 C260.7,570.3 265.6,567.6 268.1,566.6 C270.6,565.6 270.3,565.2 272.0,564.5 C273.7,563.8 276.0,563.0 278.3,562.6 C280.6,562.2 283.5,562.1 285.8,562.3 C288.1,562.5 290.2,562.9 292.1,563.8 C294.0,564.7 295.4,565.9 297.1,567.6 C298.8,569.3 300.5,571.4 302.2,573.9 C303.9,576.4 305.7,579.6 307.2,582.7 C308.7,585.8 309.9,589.6 311.0,592.7 C312.1,595.8 313.2,598.1 314.1,601.5 C315.0,604.9 316.0,609.2 316.6,612.8 C317.2,616.4 317.7,620.2 317.9,622.9 C318.1,625.6 317.9,628.1 317.9,629.1" fill="none" stroke="#363a58" stroke-width="2.3" stroke-linejoin="round"/>
<path d="M68.5,629.1 C68.8,627.4 69.6,622.3 70.3,619.0 C71.0,615.7 71.3,612.7 72.6,609.5 C73.9,606.3 75.9,603.1 78.0,600.0 C80.1,596.9 83.2,593.6 85.4,591.1 C87.7,588.6 89.3,587.0 91.5,585.1 C93.7,583.2 96.1,581.2 98.4,579.9 C100.7,578.6 103.0,577.9 105.3,577.3 C107.6,576.7 109.5,576.5 112.0,576.4 C114.5,576.3 117.5,576.3 120.0,576.6 C122.5,576.9 123.5,577.3 127.3,578.2 C131.1,579.1 138.3,581.3 143.0,582.2 C147.7,583.1 151.2,583.7 155.2,583.5 C159.2,583.3 162.7,582.2 166.9,580.8 C171.1,579.4 175.8,576.6 180.3,575.2 C184.8,573.8 189.3,572.6 193.8,572.3 C198.3,572.0 202.7,572.5 207.2,573.6 C211.7,574.7 216.1,576.7 220.6,578.6 C225.1,580.5 230.4,583.4 234.1,585.3 C237.8,587.2 239.9,588.9 243.0,590.0 C246.1,591.1 248.6,591.6 252.4,592.1 C256.2,592.6 262.6,593.0 265.9,593.2 C269.2,593.4 269.7,593.3 272.0,593.4 C274.3,593.5 277.0,593.7 279.5,594.0 C282.0,594.3 284.6,594.7 287.1,595.3 C289.6,595.9 292.1,596.8 294.6,597.8 C297.1,598.8 299.9,600.0 302.2,601.5 C304.5,603.0 306.5,604.7 308.4,606.6 C310.3,608.5 312.1,610.7 313.5,612.8 C314.9,614.9 315.9,617.0 316.6,619.1 C317.3,621.2 317.7,623.7 317.9,625.4 C318.1,627.1 317.9,628.5 317.9,629.1" fill="none" stroke="#363a58" stroke-width="2.3" stroke-linejoin="round"/>
<path d="M68.5,629.1 C70.1,628.9 75.0,628.7 78.3,627.7 C81.5,626.7 84.8,625.4 88.0,623.2 C91.2,621.0 94.5,617.5 97.8,614.7 C101.0,611.9 104.6,608.1 107.5,606.3 C110.4,604.5 112.9,604.3 115.3,604.0 C117.7,603.7 119.7,604.0 122.0,604.3 C124.3,604.5 126.0,604.8 129.0,605.5 C132.0,606.2 135.9,608.6 140.0,608.6 C144.1,608.6 148.9,606.7 153.4,605.4 C157.9,604.1 163.2,601.9 166.9,601.0 C170.6,600.1 172.1,599.6 175.8,599.8 C179.5,600.0 184.8,600.6 189.3,602.1 C193.8,603.6 198.2,606.6 202.7,608.8 C207.2,611.0 211.8,613.4 216.2,615.5 C220.6,617.6 225.0,620.8 229.2,621.6 C233.4,622.4 237.3,620.7 241.2,620.1 C245.1,619.5 248.3,618.5 252.4,617.9 C256.5,617.3 262.6,616.5 265.9,616.3 C269.2,616.0 269.7,616.3 272.0,616.4 C274.3,616.5 277.0,616.6 279.5,616.9 C282.0,617.1 284.6,617.4 287.1,617.9 C289.6,618.4 292.1,619.0 294.6,619.7 C297.1,620.4 299.7,621.3 302.2,622.3 C304.7,623.2 307.4,624.5 309.7,625.4 C312.0,626.3 314.6,627.3 316.0,627.9 C317.4,628.5 317.6,628.9 317.9,629.1" fill="none" stroke="#363a58" stroke-width="2.3" stroke-linejoin="round"/>
<circle cx="120.5" cy="506.3" r="4.1" fill="#ffffff" stroke="#363a58" stroke-width="2"/>
<text x="120.8" y="496.0" font-size="7.00" fill="#363a58" font-weight="bold" text-anchor="middle">PRIMIS</text>
<circle cx="185.9" cy="531.1" r="4.1" fill="#ffffff" stroke="#363a58" stroke-width="2"/>
<text x="185.9" y="546.9" font-size="7.00" fill="#363a58" font-weight="bold" text-anchor="middle">ADOLES</text>
<circle cx="155.2" cy="583.5" r="4.1" fill="#ffffff" stroke="#363a58" stroke-width="2"/>
<text x="155.2" y="573.7" font-size="7.00" fill="#363a58" font-weight="bold" text-anchor="middle">TRITANI</text>
<circle cx="229.2" cy="621.6" r="4.1" fill="#ffffff" stroke="#363a58" stroke-width="2"/>
<text x="229.2" y="612.1" font-size="7.00" fill="#363a58" font-weight="bold" text-anchor="middle">FERRI</text>
<text x="83.2" y="644.7" font-size="7.00" fill="#464b5e" font-weight="normal" text-anchor="middle" stroke="#464b5e" stroke-width="0.22">01</text>
<text x="107.5" y="644.7" font-size="7.00" fill="#464b5e" font-weight="normal" text-anchor="middle" stroke="#464b5e" stroke-width="0.22">02</text>
<text x="131.8" y="644.7" font-size="7.00" fill="#464b5e" font-weight="normal" text-anchor="middle" stroke="#464b5e" stroke-width="0.22">03</text>
<text x="156.0" y="644.7" font-size="7.00" fill="#464b5e" font-weight="normal" text-anchor="middle" stroke="#464b5e" stroke-width="0.22">04</text>
<text x="180.6" y="644.7" font-size="7.00" fill="#464b5e" font-weight="normal" text-anchor="middle" stroke="#464b5e" stroke-width="0.22">05</text>
<text x="204.9" y="644.7" font-size="7.00" fill="#464b5e" font-weight="normal" text-anchor="middle" stroke="#464b5e" stroke-width="0.22">06</text>
<text x="229.2" y="644.7" font-size="7.00" fill="#464b5e" font-weight="normal" text-anchor="middle" stroke="#464b5e" stroke-width="0.22">07</text>
<text x="253.7" y="644.7" font-size="7.00" fill="#464b5e" font-weight="normal" text-anchor="middle" stroke="#464b5e" stroke-width="0.22">08</text>
<text x="278.0" y="644.7" font-size="7.00" fill="#464b5e" font-weight="normal" text-anchor="middle" stroke="#464b5e" stroke-width="0.22">09</text>
<text x="302.9" y="644.7" font-size="7.00" fill="#464b5e" font-weight="normal" text-anchor="middle" stroke="#464b5e" stroke-width="0.22">10</text>
<rect x="375.6" y="455.4" width="6.6" height="6.6" fill="#6b7388"/>
<text x="386.8" y="462.1" font-size="10.20" fill="#363a52" font-weight="bold" text-anchor="start" textLength="66.2" lengthAdjust="spacingAndGlyphs" letter-spacing="0.7">TRITANI AN FERRI</text>
<rect x="375.6" y="476.2" width="248.8" height="153" fill="#f2f3f7"/>
<path d="M375.6,629.2 L398.33,592.34 Q402.00,586.38 405.67,592.34 L428.4,629.2 Z" fill="#4fc3e6" fill-opacity="0.9"/>
<path d="M415.1,629.2 L439.25,558.23 Q441.50,551.60 443.75,558.23 L467.9,629.2 Z" fill="#22cdc6" fill-opacity="0.9"/>
<path d="M453.9,629.2 L475.41,607.12 Q480.30,602.11 485.19,607.12 L506.7,629.2 Z" fill="#f47a5c" fill-opacity="0.9"/>
<path d="M493.3,629.2 L516.03,592.34 Q519.70,586.38 523.37,592.34 L546.1,629.2 Z" fill="#f5506c" fill-opacity="0.9"/>
<path d="M532.2,629.2 L556.70,542.38 Q558.60,535.64 560.50,542.38 L585.0,629.2 Z" fill="#62519a" fill-opacity="0.9"/>
<path d="M571.6,629.2 L595.21,574.94 Q598.00,568.52 600.79,574.94 L624.4,629.2 Z" fill="#4fc3e6" fill-opacity="0.9"/>
<path d="M395.84,564.92 L402.00,569.90 L408.16,564.92 A9.80,9.80 0 1 0 395.84,564.92 Z" fill="#6c7389"/>
<text x="402.0" y="560.6" font-size="9.20" fill="#ffffff" font-weight="bold" text-anchor="middle" textLength="8.1" lengthAdjust="spacingAndGlyphs" stroke="#ffffff" stroke-width="0.3">01</text>
<path d="M435.34,530.92 L441.50,535.90 L447.66,530.92 A9.80,9.80 0 1 0 435.34,530.92 Z" fill="#6c7389"/>
<text x="441.5" y="526.6" font-size="9.20" fill="#ffffff" font-weight="bold" text-anchor="middle" textLength="9.7" lengthAdjust="spacingAndGlyphs" stroke="#ffffff" stroke-width="0.3">02</text>
<path d="M474.14,581.62 L480.30,586.60 L486.46,581.62 A9.80,9.80 0 1 0 474.14,581.62 Z" fill="#6c7389"/>
<text x="480.3" y="577.3" font-size="9.20" fill="#ffffff" font-weight="bold" text-anchor="middle" textLength="9.7" lengthAdjust="spacingAndGlyphs" stroke="#ffffff" stroke-width="0.3">03</text>
<path d="M513.54,563.92 L519.70,568.90 L525.86,563.92 A9.80,9.80 0 1 0 513.54,563.92 Z" fill="#6c7389"/>
<text x="519.7" y="559.6" font-size="9.20" fill="#ffffff" font-weight="bold" text-anchor="middle" textLength="9.7" lengthAdjust="spacingAndGlyphs" stroke="#ffffff" stroke-width="0.3">04</text>
<path d="M552.44,517.82 L558.60,522.80 L564.76,517.82 A9.80,9.80 0 1 0 552.44,517.82 Z" fill="#6c7389"/>
<text x="558.6" y="513.5" font-size="9.20" fill="#ffffff" font-weight="bold" text-anchor="middle" textLength="9.7" lengthAdjust="spacingAndGlyphs" stroke="#ffffff" stroke-width="0.3">05</text>
<path d="M591.84,549.12 L598.00,554.10 L604.16,549.12 A9.80,9.80 0 1 0 591.84,549.12 Z" fill="#6c7389"/>
<text x="598.0" y="544.8" font-size="9.20" fill="#ffffff" font-weight="bold" text-anchor="middle" textLength="9.7" lengthAdjust="spacingAndGlyphs" stroke="#ffffff" stroke-width="0.3">06</text>
<text x="402.0" y="645.1" font-size="9.40" fill="#464b5e" font-weight="bold" text-anchor="middle" textLength="17.7" lengthAdjust="spacingAndGlyphs">JAN</text>
<text x="441.5" y="645.1" font-size="9.40" fill="#464b5e" font-weight="bold" text-anchor="middle" textLength="16.7" lengthAdjust="spacingAndGlyphs">FEB</text>
<text x="480.3" y="645.1" font-size="9.40" fill="#464b5e" font-weight="bold" text-anchor="middle" textLength="18.4" lengthAdjust="spacingAndGlyphs">MAR</text>
<text x="519.7" y="645.1" font-size="9.40" fill="#464b5e" font-weight="bold" text-anchor="middle" textLength="17.2" lengthAdjust="spacingAndGlyphs">APR</text>
<text x="558.6" y="645.1" font-size="9.40" fill="#464b5e" font-weight="bold" text-anchor="middle" textLength="17.2" lengthAdjust="spacingAndGlyphs">MAY</text>
<text x="598.0" y="645.1" font-size="9.40" fill="#464b5e" font-weight="bold" text-anchor="middle" textLength="18.0" lengthAdjust="spacingAndGlyphs">JUN</text>
<rect x="682.8" y="455.4" width="6.6" height="6.6" fill="#363a58"/>
<text x="693.4" y="462.1" font-size="10.20" fill="#363a52" font-weight="bold" text-anchor="start" textLength="83.4" lengthAdjust="spacingAndGlyphs" letter-spacing="0.7">VOCIBUS ADOLESCENS</text>
<rect x="681.9" y="476.3" width="249.7" height="152.9" fill="#f3f4f7"/>
<linearGradient id="g9t" x1="0" y1="0" x2="0" y2="1"><stop offset="0" stop-color="#12bfbf"/><stop offset="1" stop-color="#d3eef5"/></linearGradient>
<linearGradient id="g9r" gradientUnits="userSpaceOnUse" x1="0" y1="566" x2="0" y2="629"><stop offset="0" stop-color="#f2553c"/><stop offset="0.35" stop-color="#ec6a6a"/><stop offset="1" stop-color="#f6eaf2"/></linearGradient>
<path d="M704.5,629.2 C705.0,626.3 706.5,619.1 707.5,612.0 C708.5,604.9 709.8,593.7 710.8,586.4 C711.8,579.1 712.5,573.1 713.5,568.0 C714.5,562.9 715.8,559.7 716.9,555.6 C718.0,551.5 719.0,546.9 720.0,543.5 C721.0,540.1 721.6,537.7 723.1,535.1 C724.6,532.5 727.0,529.4 729.2,527.9 C731.4,526.4 734.4,526.1 736.4,526.3 C738.4,526.4 740.0,527.5 741.5,528.8 C743.0,530.1 743.7,531.9 745.2,534.3 C746.7,536.7 748.7,540.6 750.4,543.4 C752.1,546.2 753.6,548.8 755.6,551.2 C757.6,553.6 759.7,556.1 762.1,557.7 C764.5,559.3 767.1,560.4 769.9,561.0 C772.7,561.6 775.8,561.6 779.0,561.6 C782.2,561.6 786.1,561.5 789.4,561.0 C792.6,560.5 795.5,559.7 798.5,558.4 C801.5,557.1 804.8,555.3 807.6,553.2 C810.4,551.1 812.8,548.6 815.4,546.0 C818.0,543.4 820.6,539.8 823.2,537.5 C825.8,535.2 828.5,533.4 831.0,532.4 C833.5,531.4 836.0,531.5 838.0,531.3 C840.0,531.1 840.9,531.5 843.1,531.0 C845.3,530.5 848.9,529.4 851.3,528.0 C853.7,526.6 855.7,525.0 857.4,522.8 C859.1,520.6 860.2,517.3 861.6,514.6 C863.0,511.9 864.0,508.4 865.7,506.4 C867.4,504.3 869.8,502.9 871.8,502.3 C873.8,501.7 876.1,502.0 878.0,502.7 C879.9,503.4 881.6,504.4 883.1,506.4 C884.6,508.4 886.0,511.2 887.2,514.6 C888.4,518.0 889.3,522.1 890.3,526.9 C891.3,531.7 892.4,537.8 893.4,543.3 C894.4,548.8 895.4,554.3 896.4,559.8 C897.4,565.3 898.5,571.1 899.5,576.2 C900.5,581.3 901.6,586.4 902.6,590.5 C903.6,594.6 904.7,597.2 905.7,600.8 C906.7,604.4 907.5,607.3 908.5,612.0 C909.5,616.7 911.2,626.3 911.8,629.2 Z" fill="url(#g9t)"/>
<path d="M691.3,629.2 C691.8,628.0 693.3,624.7 694.5,622.0 C695.7,619.3 697.1,617.0 698.5,613.1 C699.9,609.2 701.2,602.5 702.6,598.7 C704.0,594.9 705.0,592.6 706.7,590.5 C708.4,588.4 710.6,586.6 712.8,585.8 C715.0,584.9 717.8,585.1 720.0,585.4 C722.2,585.7 724.2,586.2 726.2,587.4 C728.2,588.6 730.1,591.1 732.3,592.6 C734.5,594.1 736.9,595.7 739.5,596.3 C742.1,596.9 744.8,596.9 747.7,596.3 C750.6,595.7 753.9,594.2 756.9,592.8 C759.9,591.3 762.8,589.5 766.0,587.6 C769.2,585.7 772.9,583.3 776.4,581.1 C779.9,578.9 783.5,576.3 786.8,574.6 C790.0,572.9 792.9,571.7 795.9,570.7 C798.9,569.7 802.2,569.0 805.0,568.8 C807.8,568.5 810.0,568.8 812.8,569.2 C815.6,569.6 818.9,570.5 821.9,571.4 C824.9,572.3 827.8,573.1 831.0,574.6 C834.2,576.1 837.6,578.8 841.0,580.3 C844.4,581.8 847.9,582.8 851.3,583.4 C854.7,584.0 858.5,583.7 861.6,584.0 C864.7,584.3 867.1,584.3 869.8,585.4 C872.5,586.5 875.3,588.6 878.0,590.5 C880.7,592.4 883.5,595.1 886.2,596.7 C888.9,598.4 891.3,599.6 894.4,600.4 C897.5,601.1 901.9,600.7 904.6,601.2 C907.3,601.7 908.9,602.0 910.8,603.3 C912.7,604.6 914.4,606.3 915.9,609.0 C917.4,611.7 918.8,615.9 920.0,619.3 C921.2,622.7 922.6,627.6 923.1,629.2 Z" fill="url(#g9r)"/>
<path d="M681.9,476.3V629.2 M717.6,476.3V629.2 M753.2,476.3V629.2 M788.9,476.3V629.2 M824.6,476.3V629.2 M860.3,476.3V629.2 M895.9,476.3V629.2 M931.6,476.3V629.2 M681.9,476.3H931.6 M681.9,514.8H931.6 M681.9,553.0H931.6 M681.9,591.3H931.6 M681.9,629.2H931.6" stroke="#ffffff" stroke-width="3" fill="none" stroke-opacity="0.8"/>
<path d="M681.9,476.3V629.2 M717.6,476.3V629.2 M753.2,476.3V629.2 M788.9,476.3V629.2 M824.6,476.3V629.2 M860.3,476.3V629.2 M895.9,476.3V629.2 M931.6,476.3V629.2 M681.9,476.3H931.6 M681.9,514.8H931.6 M681.9,553.0H931.6 M681.9,591.3H931.6 M681.9,629.2H931.6" stroke="#7f8188" stroke-width="1.1" fill="none"/>
<text x="675.5" y="514.8" font-size="7.00" fill="#464b5e" font-weight="normal" text-anchor="end" stroke="#464b5e" stroke-width="0.22">15</text>
<text x="675.5" y="553.6" font-size="7.00" fill="#464b5e" font-weight="normal" text-anchor="end" stroke="#464b5e" stroke-width="0.22">10</text>
<text x="675.5" y="591.0" font-size="7.00" fill="#464b5e" font-weight="normal" text-anchor="end" stroke="#464b5e" stroke-width="0.22">5</text>
<text x="717.6" y="641.7" font-size="7.00" fill="#464b5e" font-weight="normal" text-anchor="middle" stroke="#464b5e" stroke-width="0.22">01</text>
<text x="753.2" y="641.7" font-size="7.00" fill="#464b5e" font-weight="normal" text-anchor="middle" stroke="#464b5e" stroke-width="0.22">02</text>
<text x="788.9" y="641.7" font-size="7.00" fill="#464b5e" font-weight="normal" text-anchor="middle" stroke="#464b5e" stroke-width="0.22">03</text>
<text x="824.6" y="641.7" font-size="7.00" fill="#464b5e" font-weight="normal" text-anchor="middle" stroke="#464b5e" stroke-width="0.22">04</text>
<text x="860.3" y="641.7" font-size="7.00" fill="#464b5e" font-weight="normal" text-anchor="middle" stroke="#464b5e" stroke-width="0.22">05</text>
<text x="895.9" y="641.7" font-size="7.00" fill="#464b5e" font-weight="normal" text-anchor="middle" stroke="#464b5e" stroke-width="0.22">06</text>
<text transform="translate(28.4,674.5) rotate(-90)" font-size="18" fill="#333333" stroke="#333333" stroke-width="0.35" textLength="218" lengthAdjust="spacingAndGlyphs">Adobe Stock | #227806612</text>
</svg>
</body></html>
